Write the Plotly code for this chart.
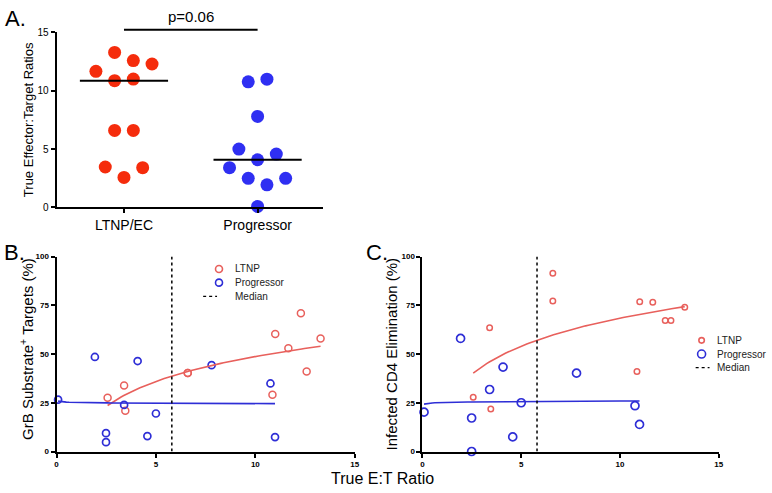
import numpy as np
import plotly.graph_objects as go

# ---------------- data ----------------
groups = ["LTNP/EC", "Progressor"]
# True E:T ratios (sorted ascending)
ltnp_et = [2.57, 3.40, 3.46, 6.6, 6.6, 10.86, 11.0, 11.66, 12.29, 12.58, 13.28]
prog_et = [0.08, 1.93, 2.49, 2.49, 3.40, 4.08, 4.57, 5.0, 7.8, 10.76, 10.99]
# GrB substrate+ targets (%)  (panel B)
ltnp_grb = [27.6, 33.9, 20.9, 40.3, 40.3, 29.1, 60.3, 53.0, 70.9, 41.1, 58.0]
prog_grb = [26.6, 48.5, 9.4, 4.8, 23.9, 46.4, 7.9, 19.5, 44.3, 34.9, 7.4]
# Infected CD4 elimination (%)  (panel C)
ltnp_cd4 = [27.8, 63.5, 21.8, 91.5, 77.2, 41.0, 76.8, 76.5, 67.2, 67.2, 74.0]
prog_cd4 = [20.2, 58.0, 17.2, 0.0, 31.8, 43.3, 7.5, 25.0, 40.2, 23.5, 13.9]
legend_labels = ["LTNP", "Progressor", "Median"]
p_value_text = "p=0.06"
a_ticks = [0, 5, 10, 15]
bc_yticks = [0, 25, 50, 75, 100]
bc_xticks = [0, 5, 10, 15]

# ---------------- style ----------------
ltnp_jitter = [0, 0.14, -0.14, -0.07, 0.07, -0.07, 0.07, -0.21, 0.21, 0.07, -0.07]
prog_jitter = [0, 0.07, -0.07, 0.21, -0.21, 0, 0.14, -0.14, 0, -0.07, 0.07]
RED_A = "#F52C0C"
BLUE_A = "#2F2FF2"
RED = "#E8605C"
BLUE = "#2E2ED6"
FONT = "Liberation Sans, Arial, sans-serif"
W, H = 772, 493


def px_x(p):
    return p / W


def px_y(p):
    return 1 - p / H


fig = go.Figure()

# ---------------- panel A ----------------
fig.add_trace(go.Scatter(
    x=[0 + j for j in ltnp_jitter], y=ltnp_et, mode="markers",
    marker=dict(size=13, color=RED_A), showlegend=False,
    xaxis="x", yaxis="y", cliponaxis=False))
fig.add_trace(go.Scatter(
    x=[1 + j for j in prog_jitter], y=prog_et, mode="markers",
    marker=dict(size=13, color=BLUE_A), showlegend=False,
    xaxis="x", yaxis="y", cliponaxis=False))
for gi, vals in enumerate([ltnp_et, prog_et]):
    m = float(np.median(vals))
    fig.add_trace(go.Scatter(
        x=[gi - 0.33, gi + 0.33], y=[m, m], mode="lines",
        line=dict(color="black", width=2), showlegend=False,
        xaxis="x", yaxis="y", cliponaxis=False, hoverinfo="skip"))

# significance bar (between the two groups, above the axis top)
fig.add_shape(type="line", xref="x", yref="paper", x0=0, x1=1,
              y0=px_y(25.3), y1=px_y(25.3), line=dict(color="black", width=2))
fig.add_annotation(x=0.5, y=px_y(11.5), xref="x", yref="paper", text=p_value_text,
                   showarrow=False, yanchor="middle",
                   font=dict(size=15, color="black", family=FONT))

median_all = float(np.median(ltnp_et + prog_et))


def log_fit(xs, ys, n=80):
    b, a = np.polyfit(np.log(xs), ys, 1)
    xx = np.linspace(min(xs), max(xs), n)
    return xx, a + b * np.log(xx)


# ---------------- panels B and C ----------------
panel_cfg = [
    # axis suffix, ltnp y, prog y, red size, blue size, legend (marker x, dash x0, dash x1, text x, row ys)
    ("2", ltnp_grb, prog_grb, 7, 7, (219, 203, 217, 233, [270, 284, 298])),
    ("3", ltnp_cd4, prog_cd4, 5.5, 8, (706, 700, 714, 720, [343, 357, 371])),
]
for ax, ltnp_y, prog_y, rsize, bsize, leg in panel_cfg:
    xa, ya = "x" + ax, "y" + ax
    fig.add_trace(go.Scatter(
        x=ltnp_et, y=ltnp_y, mode="markers", name="LTNP", showlegend=False,
        marker=dict(symbol="circle-open", size=rsize, color=RED,
                    line=dict(width=1.5, color=RED)),
        xaxis=xa, yaxis=ya, cliponaxis=False))
    fig.add_trace(go.Scatter(
        x=prog_et, y=prog_y, mode="markers", name="Progressor", showlegend=False,
        marker=dict(symbol="circle-open", size=bsize, color=BLUE,
                    line=dict(width=1.7, color=BLUE)),
        xaxis=xa, yaxis=ya, cliponaxis=False))
    fx, fy = log_fit(ltnp_et, ltnp_y)
    fig.add_trace(go.Scatter(x=fx, y=fy, mode="lines", showlegend=False,
                             line=dict(color=RED, width=1.6),
                             xaxis=xa, yaxis=ya, hoverinfo="skip"))
    fx, fy = log_fit(prog_et, prog_y)
    fig.add_trace(go.Scatter(x=fx, y=fy, mode="lines", showlegend=False,
                             line=dict(color=BLUE, width=1.6),
                             xaxis=xa, yaxis=ya, hoverinfo="skip"))
    fig.add_trace(go.Scatter(
        x=[median_all, median_all], y=[0, 100], mode="lines", name="Median",
        showlegend=False, line=dict(color="black", width=1.5, dash="dot"),
        xaxis=xa, yaxis=ya, hoverinfo="skip"))

    # compact legend drawn with shapes + text
    mx, dx0, dx1, tx, rows = leg
    for lab, col, sz, ry in [(legend_labels[0], RED, rsize, rows[0]),
                             (legend_labels[1], BLUE, bsize, rows[1])]:
        r = sz / 2
        fig.add_shape(type="circle", xref="paper", yref="paper",
                      xsizemode="pixel", ysizemode="pixel",
                      xanchor=px_x(mx), yanchor=px_y(ry),
                      x0=-r, x1=r, y0=-r, y1=r,
                      line=dict(color=col, width=1.6))
        fig.add_annotation(text=lab, x=px_x(tx), y=px_y(ry), xref="paper", yref="paper",
                           showarrow=False, xanchor="left", yanchor="middle",
                           font=dict(size=10, color="#222", family=FONT))
    fig.add_shape(type="line", xref="paper", yref="paper",
                  x0=px_x(dx0), x1=px_x(dx1), y0=px_y(rows[2]), y1=px_y(rows[2]),
                  line=dict(color="black", width=1.3, dash="dot"))
    fig.add_annotation(text=legend_labels[2], x=px_x(tx), y=px_y(rows[2]),
                       xref="paper", yref="paper", showarrow=False,
                       xanchor="left", yanchor="middle",
                       font=dict(size=10, color="#222", family=FONT))

axis_common = dict(showline=True, linecolor="black", linewidth=2, ticks="outside",
                   ticklen=4, tickwidth=1.5, tickcolor="black", showgrid=False,
                   zeroline=False, mirror=False)
small_tick = dict(size=8, color="black", family=FONT, weight="bold")

fig.update_layout(
    width=W, height=H, margin=dict(l=0, r=0, t=0, b=0),
    paper_bgcolor="white", plot_bgcolor="white",
    font=dict(family=FONT, color="black"),
    showlegend=False,
    xaxis=dict(domain=[px_x(55), px_x(324)], range=[-0.505, 1.49], anchor="y",
               tickvals=[0, 1], ticktext=groups,
               tickfont=dict(size=14, color="black", family=FONT), **axis_common),
    yaxis=dict(domain=[px_y(207), px_y(28)], range=[0, 15], anchor="x",
               tickvals=a_ticks, tickfont=dict(size=10, color="black", family=FONT),
               **axis_common),
    xaxis2=dict(domain=[px_x(55), px_x(356)], range=[0, 15], anchor="y2",
                tickvals=bc_xticks, tickfont=small_tick, **axis_common),
    yaxis2=dict(domain=[px_y(456.7), px_y(257.3)], range=[0, 100], anchor="x2",
                tickvals=bc_yticks, tickfont=small_tick, **axis_common),
    xaxis3=dict(domain=[px_x(424.3), px_x(723.3)], range=[0, 15], anchor="y3",
                tickvals=bc_xticks, tickfont=small_tick, **axis_common),
    yaxis3=dict(domain=[px_y(456.7), px_y(257.3)], range=[0, 100], anchor="x3",
                tickvals=bc_yticks, tickfont=small_tick, **axis_common),
)

# axis titles and panel letters
ann = [
    dict(text="True Effector:Target Ratios", x=px_x(27), y=px_y(117), textangle=-90, size=13),
    dict(text="GrB Substrate<sup>+</sup> Targets (%)", x=px_x(24), y=px_y(352), textangle=-90, size=15),
    dict(text="Infected CD4 Elimination (%)", x=px_x(393), y=px_y(357), textangle=-90, size=15),
    dict(text="True E:T Ratio", x=px_x(384), y=px_y(484), textangle=0, size=16),
    dict(text="A.", x=px_x(14), y=px_y(14), textangle=0, size=22),
    dict(text="B.", x=px_x(13), y=px_y(253), textangle=0, size=22),
    dict(text="C.", x=px_x(378), y=px_y(253), textangle=0, size=22),
]
for a in ann:
    fig.add_annotation(text=a["text"], x=a["x"], y=a["y"], xref="paper", yref="paper",
                       showarrow=False, textangle=a["textangle"],
                       xanchor="center", yanchor="middle",
                       font=dict(size=a["size"], color="black", family=FONT))

fig.write_html(
    "out.html",
    config={"displayModeBar": False},
    post_script="document.body.style.margin='0';document.body.style.overflow='hidden';",
)
